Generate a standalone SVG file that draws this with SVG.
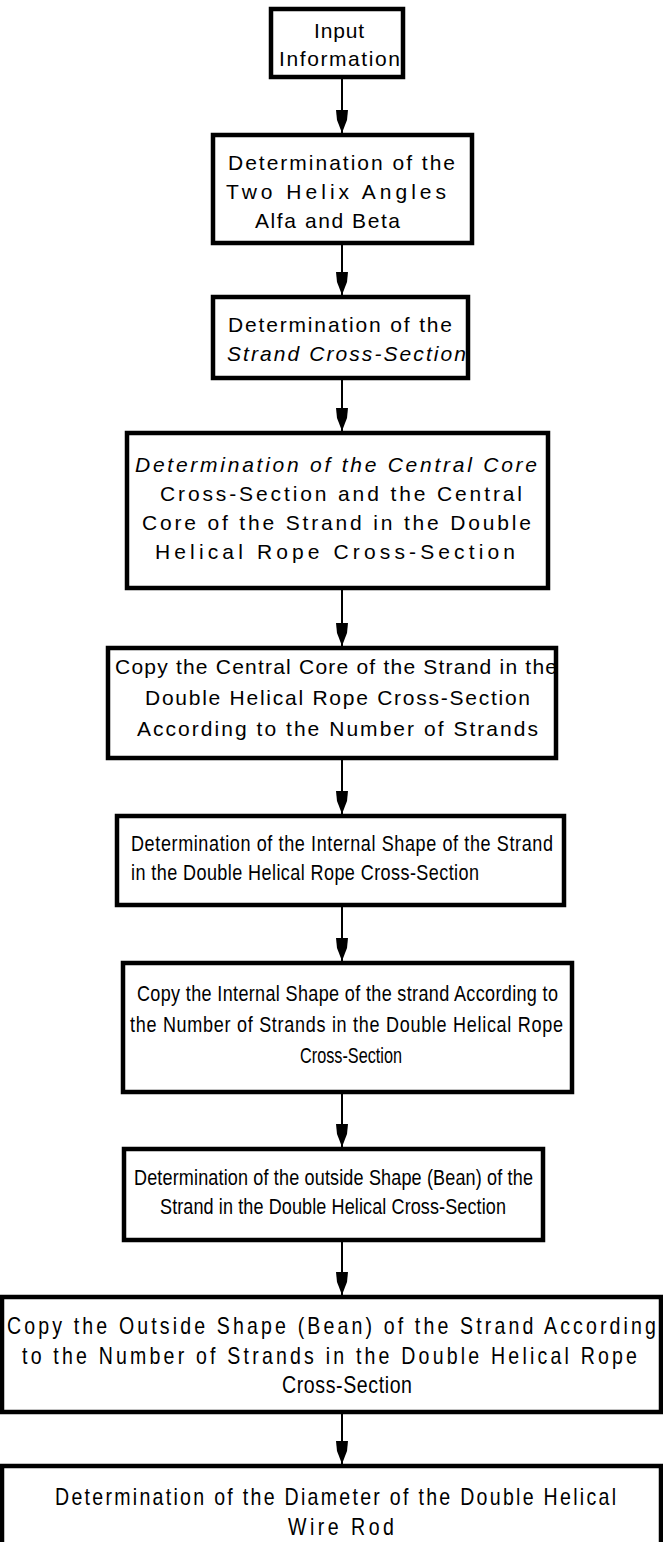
<svg xmlns="http://www.w3.org/2000/svg" width="663" height="1542" viewBox="0 0 663 1542">
<defs>
<style>
.box{fill:#fff;stroke:#000;stroke-width:4.5}
.t{font-family:"Liberation Sans",Arial,sans-serif;font-size:21px;fill:#000}
.t3{font-family:"Liberation Sans",Arial,sans-serif;font-size:22px;fill:#000}
.t2{font-family:"Liberation Sans",Arial,sans-serif;font-size:23px;fill:#000}
.c{stroke:#000;stroke-width:2;fill:none}
</style>
<marker id="ah" markerUnits="userSpaceOnUse" markerWidth="26" markerHeight="16" refX="23" refY="0" orient="auto" viewBox="0 -8 26 16">
<path d="M0,-6 L10,-5 L23,0 L10,5 L0,6 Z" fill="#000"/>
</marker>
</defs>
<rect width="663" height="1542" fill="#fff"/>
<g id="connectors">
<line class="c" x1="342" y1="77" x2="342" y2="133" marker-end="url(#ah)"/>
<line class="c" x1="342" y1="243" x2="342" y2="295" marker-end="url(#ah)"/>
<line class="c" x1="342" y1="378" x2="342" y2="431" marker-end="url(#ah)"/>
<line class="c" x1="342" y1="588" x2="342" y2="646" marker-end="url(#ah)"/>
<line class="c" x1="342" y1="758" x2="342" y2="814" marker-end="url(#ah)"/>
<line class="c" x1="342" y1="905" x2="342" y2="961" marker-end="url(#ah)"/>
<line class="c" x1="342" y1="1092" x2="342" y2="1147" marker-end="url(#ah)"/>
<line class="c" x1="342" y1="1240" x2="342" y2="1295" marker-end="url(#ah)"/>
<line class="c" x1="342" y1="1412" x2="342" y2="1464" marker-end="url(#ah)"/>
</g>
<g id="n1">
<rect class="box" x="271" y="9" width="132" height="68"/>
<text class="t" x="314" y="38" textLength="50" lengthAdjust="spacing">Input</text>
<text class="t" x="279" y="66" textLength="121" lengthAdjust="spacing">Information</text>
</g>
<g id="n2">
<rect class="box" x="213" y="135" width="259" height="108"/>
<text class="t" x="228" y="170" textLength="227" lengthAdjust="spacing">Determination of the</text>
<text class="t" x="226" y="199" textLength="220" lengthAdjust="spacing">Two  Helix  Angles</text>
<text class="t" x="255" y="228" textLength="145" lengthAdjust="spacing">Alfa and Beta</text>
</g>
<g id="n3">
<rect class="box" x="213" y="297" width="255" height="81"/>
<text class="t" x="228" y="332" textLength="224" lengthAdjust="spacing">Determination of the</text>
<text class="t" x="227" y="361" textLength="239" lengthAdjust="spacing" font-style="italic">Strand Cross-Section</text>
</g>
<g id="n4">
<rect class="box" x="127" y="433" width="421" height="155"/>
<text class="t" x="135" y="472" textLength="402" lengthAdjust="spacing" font-style="italic">Determination of the Central Core</text>
<text class="t" x="160" y="501" textLength="362" lengthAdjust="spacing">Cross-Section  and  the  Central</text>
<text class="t" x="142" y="530" textLength="389" lengthAdjust="spacing">Core of the Strand in  the Double</text>
<text class="t" x="155" y="559" textLength="360" lengthAdjust="spacing">Helical  Rope  Cross-Section</text>
</g>
<g id="n5">
<rect class="box" x="108" y="648" width="448" height="110"/>
<text class="t" x="115" y="674" textLength="442" lengthAdjust="spacing">Copy the Central Core of the Strand in the</text>
<text class="t" x="145" y="705" textLength="385" lengthAdjust="spacing">Double Helical Rope Cross-Section</text>
<text class="t" x="137" y="736" textLength="401" lengthAdjust="spacing">According to the Number of Strands</text>
</g>
<g id="n6">
<rect class="box" x="117" y="816" width="447" height="89"/>
<g transform="scale(0.82,1)">
<text class="t3" x="159.76" y="851" textLength="514.63" lengthAdjust="spacing">Determination of the Internal Shape of the Strand</text>
<text class="t3" x="159.76" y="880" textLength="424.39" lengthAdjust="spacing">in the Double Helical Rope Cross-Section</text>
</g>
</g>
<g id="n7">
<rect class="box" x="123" y="963" width="449" height="129"/>
<g transform="scale(0.82,1)">
<text class="t3" x="167.07" y="1001" textLength="513.41" lengthAdjust="spacing">Copy the Internal Shape of the strand According to</text>
<text class="t3" x="158.54" y="1032" textLength="528.05" lengthAdjust="spacing">the Number of Strands in the Double Helical Rope</text>
<text class="t3" x="365.85" y="1063" textLength="124.39" lengthAdjust="spacingAndGlyphs">Cross-Section</text>
</g>
</g>
<g id="n8">
<rect class="box" x="124" y="1149" width="419" height="91"/>
<g transform="scale(0.82,1)">
<text class="t3" x="163.41" y="1185" textLength="486.59" lengthAdjust="spacing">Determination of the outside Shape (Bean) of the</text>
<text class="t3" x="195.12" y="1214" textLength="421.95" lengthAdjust="spacing">Strand in the Double Helical Cross-Section</text>
</g>
</g>
<g id="n9">
<rect class="box" x="2" y="1297" width="659" height="115"/>
<g transform="scale(0.85,1)">
<text class="t2" x="8.24" y="1334" textLength="763.53" lengthAdjust="spacing">Copy the Outside Shape (Bean) of the Strand According</text>
<text class="t2" x="25.88" y="1364" textLength="723.53" lengthAdjust="spacing">to the Number of Strands in the Double Helical Rope</text>
<text class="t2" x="331.76" y="1393" textLength="152.94" lengthAdjust="spacing">Cross-Section</text>
</g>
</g>
<g id="n10">
<rect class="box" x="2" y="1466" width="659" height="100"/>
<g transform="scale(0.85,1)">
<text class="t2" x="64.71" y="1505" textLength="660" lengthAdjust="spacing">Determination of the Diameter of the Double Helical</text>
<text class="t2" x="338.82" y="1535" textLength="124.71" lengthAdjust="spacing">Wire Rod</text>
</g>
</g>
</svg>
